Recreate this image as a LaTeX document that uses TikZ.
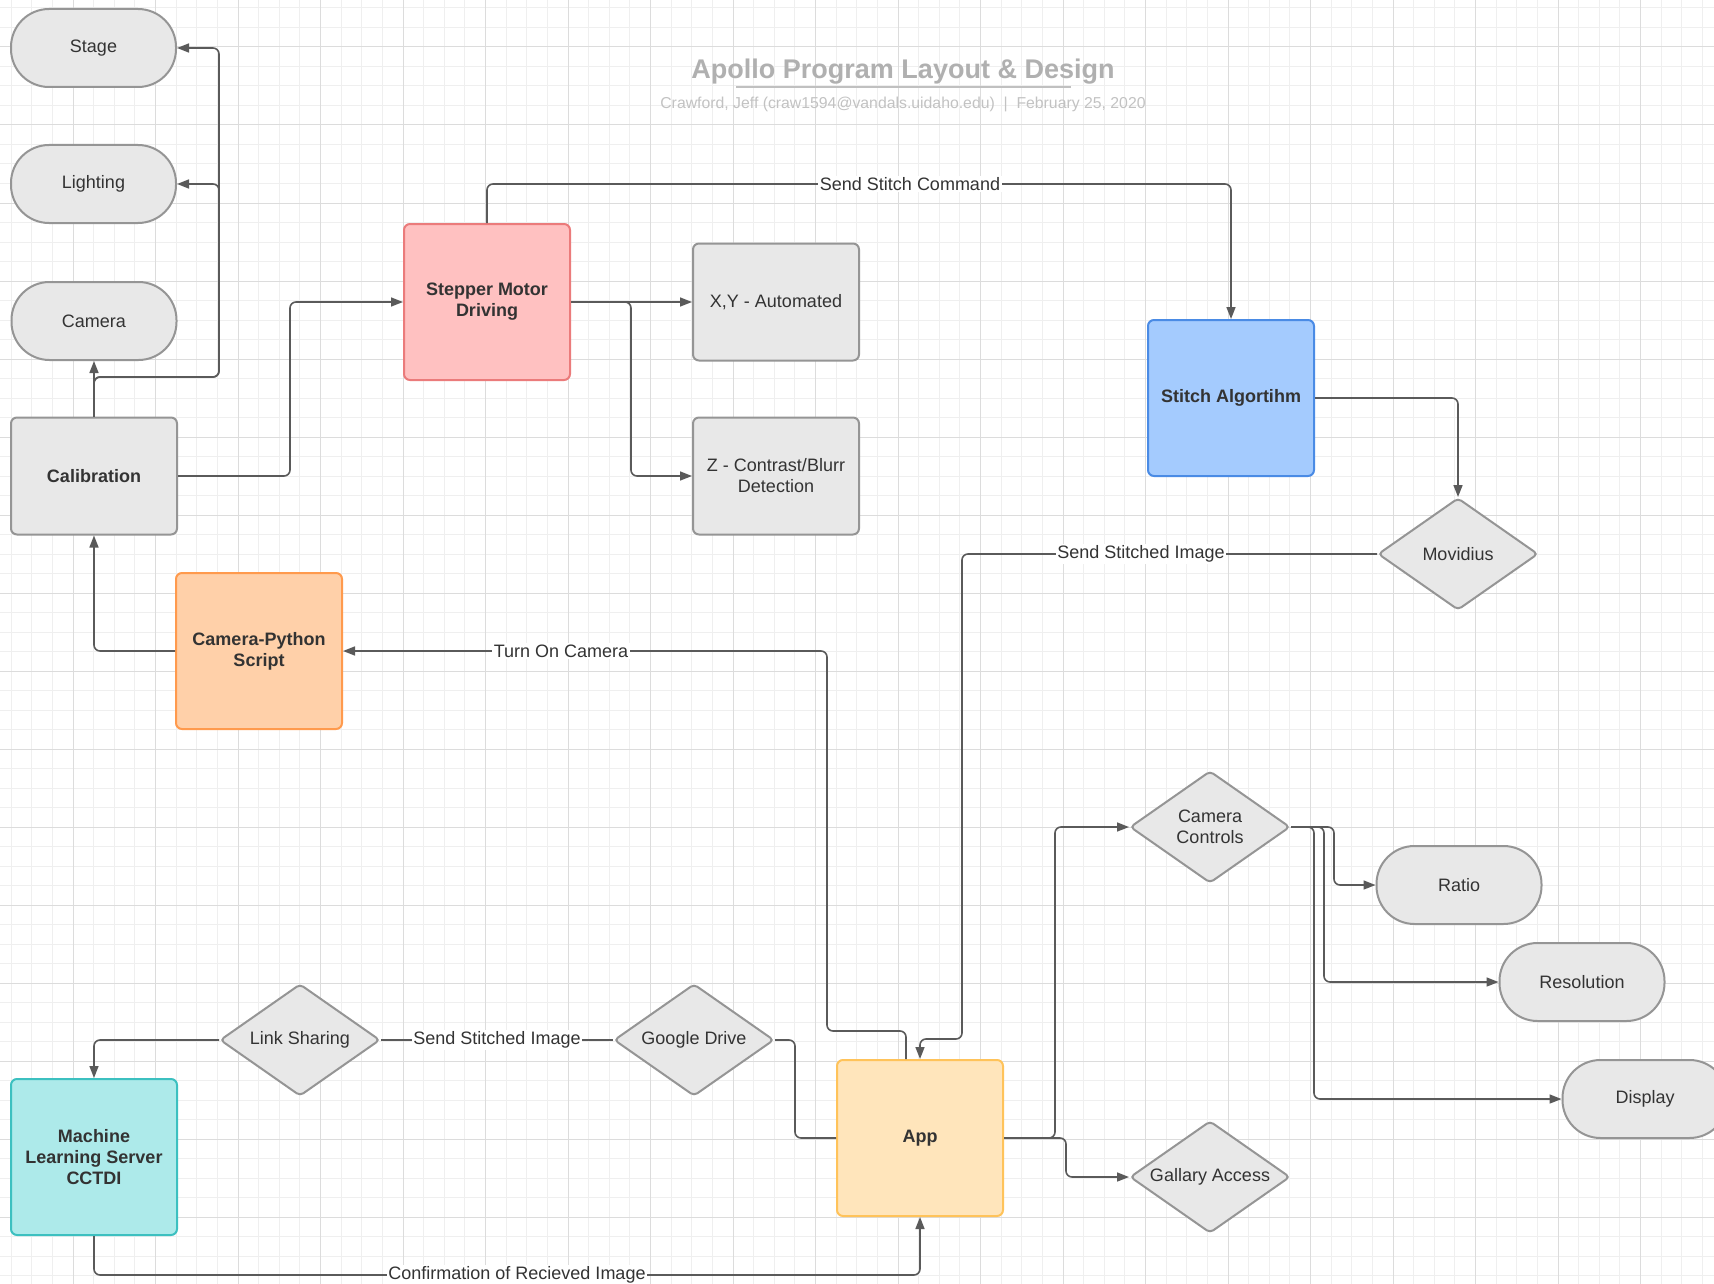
\documentclass[tikz,border=0pt]{standalone}
\usepackage{fontspec}
\setmainfont{Liberation Sans}
\usetikzlibrary{shapes.geometric,arrows.meta,calc}
\definecolor{gridminor}{HTML}{EFEFEF}
\definecolor{gridmajor}{HTML}{DCDCDC}
\definecolor{gfill}{HTML}{E8E8E8}
\definecolor{gdraw}{HTML}{959595}
\definecolor{txt}{HTML}{333333}
\definecolor{lineC}{HTML}{5A5A5A}
\definecolor{pinkF}{HTML}{FFC1C1}
\definecolor{pinkD}{HTML}{EB7B7B}
\definecolor{blueF}{HTML}{A4CBFE}
\definecolor{blueD}{HTML}{4A8BE5}
\definecolor{orangeF}{HTML}{FFD0A9}
\definecolor{orangeD}{HTML}{FF9A4D}
\definecolor{yellowF}{HTML}{FFE5BB}
\definecolor{yellowD}{HTML}{FFC35A}
\definecolor{tealF}{HTML}{ADEAEA}
\definecolor{tealD}{HTML}{3CC0C0}
\definecolor{titleC}{HTML}{B0B0B0}
\definecolor{subC}{HTML}{C2C2C2}
\begin{document}
\begin{tikzpicture}[x=0.5pt,y=-0.5pt,
  nodefont/.style={font=\fontsize{9}{10.5}\selectfont},
  box/.style={draw=gdraw, fill=gfill, line width=1pt, rounded corners=3pt,
    minimum width=83pt, minimum height=58.5pt, align=center, text=txt,
    nodefont, inner sep=0pt},
  pill/.style={box, rounded corners=19pt, minimum height=39pt, minimum width=82.5pt},
  cbox/.style={box, minimum height=78pt, font=\fontsize{9}{10.5}\selectfont\bfseries},
  boldbox/.style={box, font=\fontsize{9}{10.5}\selectfont\bfseries},
  dia/.style={diamond, draw=gdraw, fill=gfill, line width=1pt, rounded corners=2pt,
    minimum width=80pt, minimum height=56pt, inner sep=0pt, align=center,
    text=txt, nodefont},
  conn/.style={draw=lineC, line width=0.8pt, rounded corners=3pt},
  arr/.style={conn, -{Triangle[length=6pt,width=4.5pt]}},
  lbl/.style={fill=white, inner sep=0.8pt, text=txt, nodefont},
  gminor/.style={draw=gridminor, line width=0.5pt},
  gmajor/.style={draw=gridmajor, line width=0.5pt}
]
\useasboundingbox (0,0) rectangle (1714,1284);
\begin{scope}
\clip (0,0) rectangle (1714,1284);
\fill[white] (0,0) rectangle (1714,1284);
% grid
\foreach \i in {0,...,82} { \draw[gminor] ({11.125+20.625*\i},0) -- ({11.125+20.625*\i},1284); }
\foreach \j in {0,...,65} { \draw[gminor] (0,{8+19.5*\j}) -- (1714,{8+19.5*\j}); }
\foreach \i in {0,...,19} { \draw[gmajor] ({73+82.5*\i},0) -- ({73+82.5*\i},1284); }
\foreach \j in {0,...,15} { \draw[gmajor] (0,{47+78*\j}) -- (1714,{47+78*\j}); }

% title
\node[text=titleC, font=\fontsize{13.5}{16}\selectfont\bfseries] (title) at (903,72) {Apollo Program Layout \& Design};
\draw[draw=titleC!80, line width=1pt] (736,87) -- (1071,87);
\node[text=subC, font=\fontsize{7.9}{9}\selectfont] (subt) at (903,104) {Crawford, Jeff (craw1594@vandals.uidaho.edu) \ | \ February 25, 2020};

% nodes
\node[pill] (stage) at (93.5,48) {Stage};
\node[pill] (light) at (93.5,184) {Lighting};
\node[pill] (cam) at (94,321) {Camera};
\node[boldbox] (cal) at (94,476) {Calibration};
\node[cbox, fill=pinkF, draw=pinkD] (step) at (487,302) {Stepper Motor\\Driving};
\node[box] (xy) at (776,302) {X,Y - Automated};
\node[box] (z) at (776,476) {Z - Contrast/Blurr\\Detection};
\node[cbox, fill=blueF, draw=blueD] (stitch) at (1231,398) {Stitch Algortihm};
\node[dia] (mov) at (1458,554) {\makebox[0pt]{Movidius}};
\node[cbox, fill=orangeF, draw=orangeD] (campy) at (259,651) {Camera-Python\\Script};
\node[dia] (cc) at (1210,827) {\makebox[0pt]{Camera}\\\makebox[0pt]{Controls}};
\node[pill] (ratio) at (1459,885) {Ratio};
\node[pill] (res) at (1582,982) {Resolution};
\node[pill] (disp) at (1645,1099) {Display};
\node[dia] (ls) at (300,1040) {\makebox[0pt]{Link Sharing}};
\node[dia] (gd) at (694,1040) {\makebox[0pt]{Google Drive}};
\node[cbox, fill=tealF, draw=tealD] (ml) at (94,1157) {Machine\\Learning Server\\CCTDI};
\node[cbox, fill=yellowF, draw=yellowD] (app) at (920,1138) {App};
\node[dia] (ga) at (1210,1177) {\makebox[0pt]{Gallary Access}};

% helper coordinates
\coordinate (jA) at (219,377);
\coordinate (jB) at (290,302);
\coordinate (kC) at (1231,184);
\coordinate (jD) at (631,390);
\coordinate (jE) at (962,800);
\coordinate (kE) at (920,1039);
\coordinate (kF) at ($(app.north)+(-14,0)$);
\coordinate (jF) at (827,1031);
\coordinate (jG) at (1055,980);
\coordinate (jH) at (1066,1160);
\coordinate (jI1) at (1334,850);
\coordinate (jI2) at (1324,900);
\coordinate (jI3) at (1314,950);
\coordinate (jJ) at (795,1090);
\coordinate (jK) at (500,1275);

% connectors
\draw[arr] (cal.north) -- (cam.south);
\draw[arr] (cal.north) |- (jA) |- (light.east);
\draw[arr] (cal.north) |- (jA) |- (stage.east);
\draw[arr] (cal.east) -| (jB) -- (step.west);
\draw[arr] (step.north) |- (kC) -- (stitch.north);
\draw[arr] (step.east) -- (xy.west);
\draw[arr] (step.east) -| (jD) |- (z.west);
\draw[arr] (stitch.east) -| (mov.north);
\draw[arr] (mov.west) -| (jE) |- (kE) -- (app.north);
\draw[arr] (kF) |- (jF) |- (campy.east);
\draw[arr] (campy.west) -| (cal.south);
\draw[arr] (app.east) -| (jG) |- (cc.west);
\draw[arr] (app.east) -| (jH) |- (ga.west);
\draw[arr] (cc.east) -| (jI1) |- (ratio.west);
\draw[arr] (cc.east) -| (jI2) |- (res.west);
\draw[arr] (cc.east) -| (jI3) |- (disp.west);
\draw[conn] (gd.west) -- (ls.east);
\draw[arr] (ls.west) -| (ml.north);
\draw[conn] (gd.east) -| (jJ) |- (app.west);
\draw[arr] (ml.south) |- (jK) -| (app.south);

% labels
\node[lbl] (l1) at (910,184) {Send Stitch Command};
\node[lbl] (l2) at (1141,554) {Send Stitched Image};
\node[lbl] (l3) at (561,651) {Turn On Camera};
\node[lbl] (l4) at (497,1040) {Send Stitched Image};
\node[lbl] (l5) at (517,1275) {Confirmation of Recieved Image};
\end{scope}
\end{tikzpicture}
\end{document}
